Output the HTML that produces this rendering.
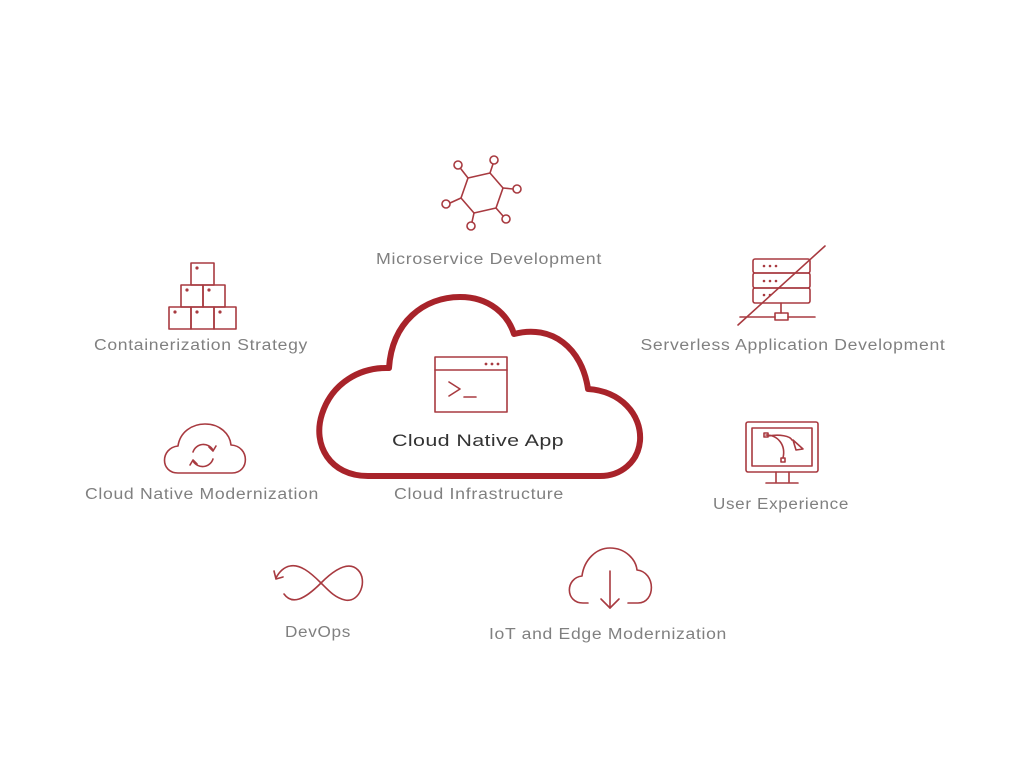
<!DOCTYPE html>
<html><head><meta charset="utf-8"><style>
html,body{margin:0;padding:0;background:#fff;}
svg{display:block}
text{font-family:"Liberation Sans",sans-serif;fill:#808080;font-size:15.5px;letter-spacing:0.6px}
</style></head><body>
<svg width="1024" height="759" viewBox="0 0 1024 759" xmlns="http://www.w3.org/2000/svg">
<g fill="none" stroke="#a83a40" stroke-width="1.6" stroke-linecap="round" stroke-linejoin="round">
<polygon points="468,178 490,173 503,188 496,208 474,213 461,198"/>
<line x1="468" y1="178" x2="461" y2="169"/><circle cx="458" cy="165" r="4"/>
<line x1="490" y1="173" x2="493" y2="164"/><circle cx="494" cy="160" r="4"/>
<line x1="503" y1="188" x2="513" y2="189"/><circle cx="517" cy="189" r="4"/>
<line x1="496" y1="208" x2="503" y2="216"/><circle cx="506" cy="219" r="4"/>
<line x1="474" y1="213" x2="472" y2="222"/><circle cx="471" cy="226" r="4"/>
<line x1="461" y1="198" x2="450" y2="203"/><circle cx="446" cy="204" r="4"/>
<rect x="191" y="263" width="23" height="22"/>
<rect x="181" y="285" width="22" height="22"/><rect x="203" y="285" width="22" height="22"/>
<rect x="169" y="307" width="22" height="22"/><rect x="191" y="307" width="23" height="22"/><rect x="214" y="307" width="22" height="22"/>
<path d="M178 473 C160 473 160 448 178 446 C180 432 192 424 205 424 C220 424 230 434 231 445 C250 446 250 473 232 473 Z"/>
<path d="M193 452 A11 11 0 0 1 213 450"/><path d="M213 459 A11 11 0 0 1 193 461"/>
<polyline points="209,447 213,451 216,446"/><polyline points="197,464 193,460 190,465"/>
<path d="M284 594 C292 605 304 600 321 583 C338 566 350 562 358 570 C368 580 360 603 345 600 C335 598 328 590 321 583 C310 572 300 564 290 566 C284 567 279 572 276 578"/>
<polyline points="274,571 276,579 283,577"/>
<path d="M588 603 L583 603 C565 603 565 578 582 576 C584 560 596 548 610 548 C626 548 636 560 637 570 C656 572 656 603 638 603 L628 603"/>
<line x1="610" y1="571" x2="610" y2="608"/><polyline points="601,599 610,608 619,599"/>
<rect x="753" y="259" width="57" height="14" rx="2"/><rect x="753" y="273" width="57" height="15" rx="2"/><rect x="753" y="288" width="57" height="15" rx="2"/>
<line x1="781" y1="303" x2="781" y2="313"/><rect x="775" y="313" width="13" height="7"/>
<line x1="740" y1="317" x2="775" y2="317"/><line x1="788" y1="317" x2="815" y2="317"/>
<line x1="738" y1="325" x2="825" y2="246"/>
<g fill="#a83a40" stroke="none"><circle cx="764" cy="266" r="1.3"/><circle cx="770" cy="266" r="1.3"/><circle cx="776" cy="266" r="1.3"/><circle cx="764" cy="281" r="1.3"/><circle cx="770" cy="281" r="1.3"/><circle cx="776" cy="281" r="1.3"/><circle cx="764" cy="295" r="1.3"/><circle cx="770" cy="295" r="1.3"/></g>
<rect x="746" y="422" width="72" height="50" rx="2"/><rect x="752" y="428" width="60" height="38"/>
<line x1="776" y1="472" x2="776" y2="482"/><line x1="789" y1="472" x2="789" y2="482"/><line x1="766" y1="483" x2="798" y2="483"/>
<path d="M766 435 C778 435 786 445 783 458"/><path d="M768 436 C780 434 790 436 792 440"/>
<rect x="764" y="433" width="4" height="4"/><rect x="781" y="458" width="4" height="4"/>
<polygon points="793,440 803,449 796,450"/>
<rect x="435" y="357" width="72" height="55"/><line x1="435" y1="370" x2="507" y2="370"/>
<polyline points="449,382 460,389 449,396"/><line x1="464" y1="397" x2="476" y2="397"/>
</g>
<g fill="#a83a40"><circle cx="486" cy="364" r="1.4"/><circle cx="492" cy="364" r="1.4"/><circle cx="498" cy="364" r="1.4"/>
<circle cx="197" cy="268" r="1.6"/><circle cx="187" cy="290" r="1.6"/><circle cx="209" cy="290" r="1.6"/>
<circle cx="175" cy="312" r="1.6"/><circle cx="197" cy="312" r="1.6"/><circle cx="220" cy="312" r="1.6"/></g>
<path d="M368 476 C330 476 312 445 322 414 C332 383 360 367 389 368 C392 322 424 297 460 297 C490 297 508 315 514 334 C552 324 582 348 588 389 C620 391 642 414 640 441 C638 462 621 476 600 476 Z" fill="none" stroke="#a8232a" stroke-width="6" stroke-linejoin="round"/>
<text x="478" y="446" text-anchor="middle" style="fill:#333;font-size:17px;letter-spacing:0.3px" textLength="172" lengthAdjust="spacingAndGlyphs">Cloud Native App</text>
<text x="489" y="264" text-anchor="middle" textLength="226" lengthAdjust="spacingAndGlyphs">Microservice Development</text>
<text x="201" y="350" text-anchor="middle" textLength="214" lengthAdjust="spacingAndGlyphs">Containerization Strategy</text>
<text x="793" y="350" text-anchor="middle" textLength="305" lengthAdjust="spacingAndGlyphs">Serverless Application Development</text>
<text x="202" y="499" text-anchor="middle" textLength="234" lengthAdjust="spacingAndGlyphs">Cloud Native Modernization</text>
<text x="479" y="499" text-anchor="middle" textLength="170" lengthAdjust="spacingAndGlyphs">Cloud Infrastructure</text>
<text x="781" y="509" text-anchor="middle" textLength="136" lengthAdjust="spacingAndGlyphs">User Experience</text>
<text x="318" y="637" text-anchor="middle" textLength="66" lengthAdjust="spacingAndGlyphs">DevOps</text>
<text x="608" y="639" text-anchor="middle" textLength="238" lengthAdjust="spacingAndGlyphs">IoT and Edge Modernization</text>
</svg>
</body></html>
